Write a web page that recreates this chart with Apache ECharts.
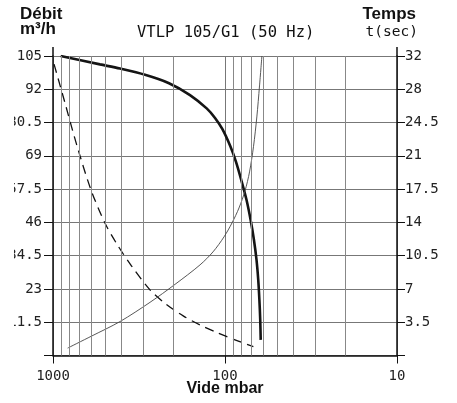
<!DOCTYPE html>
<html>
<head>
<meta charset="utf-8">
<script src="https://cdn.jsdelivr.net/npm/echarts@6/dist/echarts.min.js"></script>
<style>
  html, body { margin: 0; padding: 0; background: #fff; }
  #main { width: 457px; height: 403px; }
</style>
</head>
<body>
<div id="main"></div>
<script>
// pression (mbar) / débit (m3/h) - courbe épaisse
var debitP = [902, 533, 407.7, 291.8, 211.6, 159.8, 127.8, 114.3, 103.7, 93.1, 86.3, 80.5, 75.0, 71.0, 67.9, 65.6, 64.1, 63.1, 62.4, 62.0];
var debitQ = [103.5, 100.6, 99.15, 97.0, 94.1, 90.0, 85.4, 82.1, 78.3, 72.3, 66.9, 60.7, 53.8, 46.9, 40.0, 33.1, 26.2, 19.2, 12.3, 5.4];

// courbe en tirets
var dashP = [986, 852, 728, 601, 498, 426, 350, 273, 223, 175, 140, 112, 87.5, 68.4];
var dashQ = [100.7, 87.3, 72.8, 57.2, 45.7, 38.6, 31.0, 22.7, 18.0, 13.7, 10.6, 8.0, 5.4, 3.1];

// temps (sec) - courbe fine, axe de droite
var tempsP = [822, 600, 407.7, 273, 195.3, 139.7, 117.4, 101.3, 91.0, 82.9, 76.5, 72.0, 68.3, 65.3, 63.0, 61.0];
var tempsT = [0.78, 2.02, 3.57, 5.59, 7.48, 9.53, 10.9, 12.48, 13.95, 15.52, 17.31, 19.31, 21.96, 25.09, 28.35, 31.5];

// lignes verticales intermédiaires
var minorP = [900, 800, 700, 600, 500, 400, 300, 200, 90, 80, 70, 60, 50, 40, 30, 20];

var leftTickLabels = ['', '11.5', '23', '34.5', '46', '57.5', '69', '80.5', '92', '105'];
var rightTickLabels = ['', '3.5', '7', '10.5', '14', '17.5', '21', '24.5', '28', '32'];

function pairs(xs, ys) {
  return xs.map(function (x, i) { return [x, ys[i]]; });
}

var mono = 'DejaVu Sans Mono';
var sans = 'Liberation Sans';

var chart = echarts.init(document.getElementById('main'));
chart.setOption({
  animation: false,
  backgroundColor: '#fff',
  title: [
    { text: 'Débit', left: 20, top: 6, padding: 0,
      textStyle: { fontFamily: sans, fontWeight: 'bold', fontSize: 17, color: '#111' } },
    { text: 'm³/h', left: 20, top: 21, padding: 0,
      textStyle: { fontFamily: sans, fontWeight: 'bold', fontSize: 17, color: '#111' } },
    { text: 'VTLP 105/G1 (50 Hz)', left: 137, top: 25, padding: 0,
      textStyle: { fontFamily: mono, fontWeight: 'normal', fontSize: 15.5, color: '#111' } },
    { text: 'Temps', right: 41, top: 6, padding: 0,
      textStyle: { fontFamily: sans, fontWeight: 'bold', fontSize: 17, color: '#111' } },
    { text: 't(sec)', right: 39, top: 25, padding: 0,
      textStyle: { fontFamily: mono, fontWeight: 'normal', fontSize: 14.5, color: '#111' } }
  ],
  grid: { left: 53, right: 60, top: 56, bottom: 47.5, containLabel: false, outerBoundsMode: 'none' },
  xAxis: {
    type: 'log',
    logBase: 10,
    min: 10,
    max: 1000,
    inverse: true,
    name: 'Vide mbar',
    nameLocation: 'middle',
    nameGap: 25,
    nameMoveOverlap: false,
    nameTextStyle: { fontFamily: sans, fontWeight: 'bold', fontSize: 16, color: '#111' },
    axisLine: { lineStyle: { color: '#111', width: 1.5 } },
    axisTick: { length: 8, lineStyle: { color: '#111' } },
    axisLabel: {
      margin: 14, fontFamily: mono, fontSize: 14, color: '#222',
      formatter: function (v) { return String(Math.round(v)); }
    },
    splitLine: { show: true, lineStyle: { color: '#777', width: 1 } },
    minorTick: { show: false },
    minorSplitLine: { show: false }
  },
  yAxis: [
    {
      type: 'value',
      position: 'left',
      min: 0,
      max: 103.5,
      interval: 11.5,
      axisLine: { show: true, lineStyle: { color: '#111', width: 1.5 } },
      axisTick: { show: true, length: 9, lineStyle: { color: '#111' } },
      axisLabel: {
        margin: 11, fontFamily: mono, fontSize: 14, color: '#222',
        formatter: function (v) { return leftTickLabels[Math.round(v / 11.5)]; }
      },
      splitLine: { show: true, lineStyle: { color: '#777', width: 1 } }
    },
    {
      type: 'value',
      position: 'right',
      min: 0,
      max: 31.5,
      interval: 3.5,
      axisLine: { show: true, lineStyle: { color: '#111', width: 1.5 } },
      axisTick: { show: true, length: 8, lineStyle: { color: '#111' } },
      axisLabel: {
        margin: 8, fontFamily: mono, fontSize: 14, color: '#222',
        formatter: function (v) { return rightTickLabels[Math.round(v / 3.5)]; }
      },
      splitLine: { show: false }
    }
  ],
  series: [
    {
      name: 'grille',
      type: 'line',
      data: [],
      z: 1,
      silent: true,
      markLine: {
        silent: true,
        symbol: 'none',
        label: { show: false },
        lineStyle: { color: '#888', width: 1, type: 'solid' },
        data: minorP.map(function (p) { return { xAxis: p }; })
      }
    },
    {
      name: 'Débit',
      type: 'line',
      yAxisIndex: 0,
      z: 3,
      smooth: 0.3,
      symbol: 'none',
      lineStyle: { color: '#141414', width: 2.6 },
      data: pairs(debitP, debitQ)
    },
    {
      name: 'tirets',
      type: 'line',
      yAxisIndex: 0,
      z: 3,
      smooth: 0.3,
      symbol: 'none',
      lineStyle: { color: '#111', width: 1.3, type: [9, 6] },
      data: pairs(dashP, dashQ)
    },
    {
      name: 'Temps',
      type: 'line',
      yAxisIndex: 1,
      z: 3,
      smooth: 0.3,
      symbol: 'none',
      lineStyle: { color: '#444', width: 0.9 },
      data: pairs(tempsP, tempsT)
    }
  ],
  graphic: [
    // prolongement des axes au-dessus de la grille
    { type: 'line', shape: { x1: 53, y1: 47, x2: 53, y2: 56 }, style: { stroke: '#111', lineWidth: 1.5 } },
    { type: 'line', shape: { x1: 397, y1: 47, x2: 397, y2: 56 }, style: { stroke: '#111', lineWidth: 1.5 } },
    // bord gauche rogné comme sur l'original
    { type: 'rect', shape: { x: 0, y: 100, width: 14, height: 240 }, style: { fill: '#fff' }, z: 100 }
  ]
});
</script>
</body>
</html>
